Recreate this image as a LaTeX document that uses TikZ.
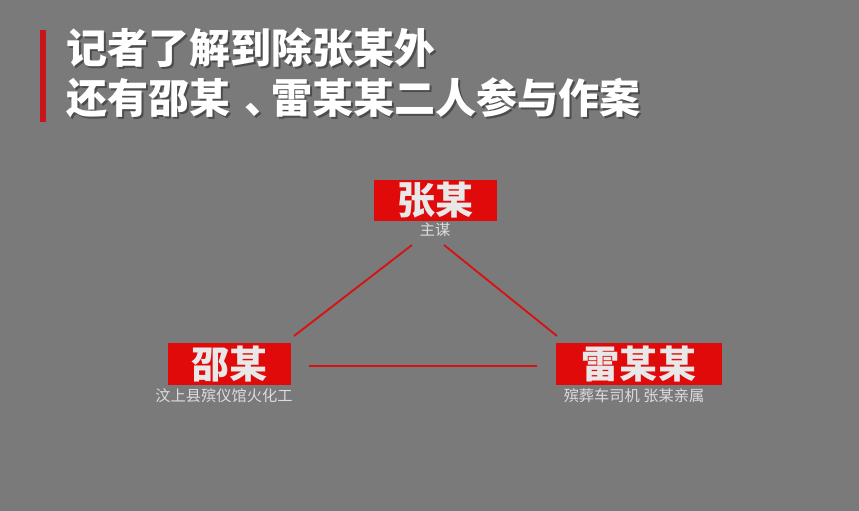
\documentclass[tikz,border=0pt]{standalone}
\usepackage{fontspec}
\setmainfont{Noto Sans CJK SC}
\usetikzlibrary{positioning,calc}

\definecolor{bggray}{HTML}{7A7A7A}
\definecolor{boxred}{HTML}{E00A0A}
\definecolor{barred}{HTML}{C8161D}
\definecolor{linered}{HTML}{D41414}
\definecolor{textlight}{HTML}{E8E8E8}
\definecolor{subgray}{HTML}{DCDCDC}

\newcommand{\midcomma}{\hspace{0.35em}、\hspace{-0.35em}}

\tikzset{
  namebox/.style={fill=boxred, text=textlight, font=\fontsize{32.5}{36}\selectfont\bfseries,
    inner sep=0pt, minimum height=1.25cm},
  rolelabel/.style={text=subgray, font=\fontsize{13}{15}\selectfont, inner sep=0pt},
  titleline/.style={anchor=west, text=white, font=\fontsize{35}{38}\selectfont\bfseries, inner sep=0pt},
  titleshadow/.style={titleline, text=black!70},
  link/.style={draw=linered, line width=1.6pt}
}

\begin{document}
\begin{tikzpicture}[x=0.03cm, y=-0.03cm]
    % background and page frame
    \fill[bggray] (0,0) rectangle (859,511);
    \useasboundingbox (0,0) rectangle (859,511);

    % title
    \fill[barred] (40,30) rectangle (46,122);
    \node[titleshadow] at (68,50) {记者了解到除张某外};
    \node[titleline] (title1) at (66,48) {记者了解到除张某外};
    \node[titleshadow] at (68,100) {还有邵某\midcomma 雷某某二人参与作案};
    \node[titleline] (title2) at (66,98) {还有邵某\midcomma 雷某某二人参与作案};

    % persons
    \node[namebox, minimum width=3.69cm] (zhang) at (435.5,200.5) {张某};
    \node[rolelabel] (zhangrole) at (435,230) {主谋};

    \node[namebox, minimum width=3.69cm] (shao) at (229.5,364) {邵某};
    \node[rolelabel] (shaorole) at (224,396) {汶上县殡仪馆火化工};

    \node[namebox, minimum width=4.98cm] (lei) at (639,364) {雷某某};
    \node[rolelabel] (leirole) at (634,396) {殡葬车司机 张某亲属};

    % connector ends
    \coordinate (zl) at (412,245);
    \coordinate (zr) at (444,245);
    \coordinate (sr) at (294,336);
    \coordinate (lt) at (557,336);
    \coordinate (sb) at (309,366);
    \coordinate (lb) at (537,366);

    \draw[link] (zl) -- (sr);
    \draw[link] (zr) -- (lt);
    \draw[link] (sb) -- (lb);
\end{tikzpicture}
\end{document}
